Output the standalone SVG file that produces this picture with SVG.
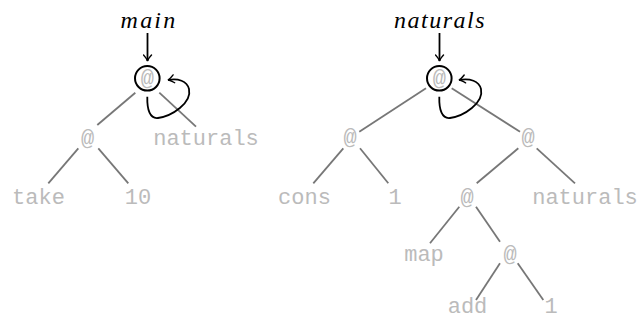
<svg xmlns="http://www.w3.org/2000/svg" width="640" height="320" viewBox="0 0 640 320">
<style>
.t{font-family:"Liberation Mono","DejaVu Sans Mono",monospace;font-size:22px;fill:#bbb;text-anchor:middle}
.lbl{font-family:"Liberation Serif","DejaVu Serif",serif;font-style:italic;font-size:24px;fill:#000;text-anchor:middle}
.e{stroke:#777;stroke-width:1.8;fill:none}
.a{stroke:#000;stroke-width:1.8;fill:none}
.c{stroke:#000;stroke-width:2;fill:#fff}
</style>
<defs>
<marker id="arr" viewBox="-8 -5 10 10" markerWidth="10" markerHeight="10" refX="0" refY="0" orient="auto" markerUnits="userSpaceOnUse">
<path d="M-6,-4 Q-2,-0.5 0,0 Q-2,0.5 -6,4" fill="none" stroke="#000" stroke-width="1.4" stroke-linecap="round"/>
</marker>
</defs>
<g id="connectors">
<line class="e" x1="135.3" y1="92.7" x2="97.3" y2="125"/>
<line class="e" x1="159.3" y1="92.7" x2="196" y2="126.7"/>
<line class="e" x1="78.3" y1="148.3" x2="48.3" y2="183.3"/>
<line class="e" x1="98.3" y1="148.3" x2="128.3" y2="183.3"/>
<line class="e" x1="426" y1="88.3" x2="359.3" y2="131.7"/>
<line class="e" x1="451.7" y1="88.3" x2="520" y2="131.7"/>
<line class="e" x1="343.3" y1="148.3" x2="313.3" y2="183.3"/>
<line class="e" x1="360" y1="148.3" x2="388.3" y2="183.3"/>
<line class="e" x1="518.3" y1="148.3" x2="476.7" y2="183.3"/>
<line class="e" x1="536.7" y1="148.3" x2="575" y2="183.3"/>
<line class="e" x1="459.3" y1="206.7" x2="430" y2="243.3"/>
<line class="e" x1="476" y1="206.7" x2="500" y2="241.7"/>
<line class="e" x1="500" y1="263.3" x2="476" y2="300"/>
<line class="e" x1="517.7" y1="263.3" x2="543.3" y2="300"/>
<line class="a" x1="147.5" y1="33" x2="147.5" y2="61" marker-end="url(#arr)"/>
<line class="a" x1="439.5" y1="33" x2="439.5" y2="61" marker-end="url(#arr)"/>
<path class="a" d="M147.3,96.7 C147,110 150,119 158,118 C172,116 192,103 189,89 C187,81 178,78 168,80" marker-end="url(#arr)"/>
<path class="a" d="M439.3,96.7 C439,110 442,119 450,118 C464,116 484,103 481,89 C479,81 470,78 459,80" marker-end="url(#arr)"/>
</g>
<g id="label-main"><text class="lbl" x="149" y="28" letter-spacing="2.2">main</text></g>
<g id="label-naturals"><text class="lbl" x="440" y="28" letter-spacing="1.5">naturals</text></g>
<g id="n-root1"><circle class="c" cx="147.3" cy="78.3" r="12.3"/><text class="t" x="147.3" y="84.5">@</text></g>
<g id="n-app1"><text class="t" x="87.5" y="144.5">@</text></g>
<g id="n-naturals1"><text class="t" x="206" y="144.5">naturals</text></g>
<g id="n-take"><text class="t" x="38.5" y="204">take</text></g>
<g id="n-10"><text class="t" x="138" y="204">10</text></g>
<g id="n-root2"><circle class="c" cx="439.3" cy="78.3" r="12.3"/><text class="t" x="439.3" y="84.5">@</text></g>
<g id="n-appL"><text class="t" x="350" y="144">@</text></g>
<g id="n-appR"><text class="t" x="528" y="144">@</text></g>
<g id="n-cons"><text class="t" x="304.5" y="204">cons</text></g>
<g id="n-one1"><text class="t" x="395" y="204">1</text></g>
<g id="n-app3"><text class="t" x="467" y="204">@</text></g>
<g id="n-naturals2"><text class="t" x="585" y="204">naturals</text></g>
<g id="n-map"><text class="t" x="424" y="261">map</text></g>
<g id="n-app4"><text class="t" x="510" y="261">@</text></g>
<g id="n-add"><text class="t" x="467.5" y="313">add</text></g>
<g id="n-one2"><text class="t" x="551" y="313">1</text></g>
</svg>
